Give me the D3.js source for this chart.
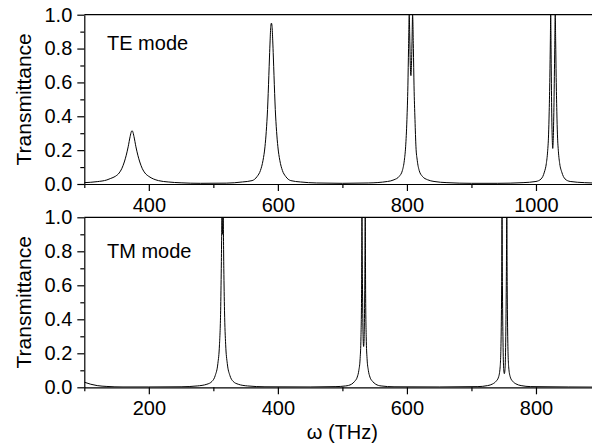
<!DOCTYPE html>
<html>
<head>
<meta charset="utf-8">
<script src="https://cdn.jsdelivr.net/npm/d3@7"></script>
<style>
  html, body { margin: 0; padding: 0; background: #fff; }
  svg { display: block; font-family: "Liberation Sans", Arial, sans-serif; }
  .axis path, .axis line { stroke: #000; stroke-width: 1.2; }
  .axis text { font-size: 20px; fill: #000; }
</style>
</head>
<body>
<svg id="chart" width="592" height="446"></svg>
<script>
// ---------- data ----------
const teOmega = [300,320,335,341,348,354,358,362,365,368,371,373,374,375,377,380,383,386,390,394,400,407,415,430,450,480,520,
  545,560,568,573,577,580,582,584,586,587,588,589,590,591,592,593,594,596,598,600,603,607,612,620,635,660,700,
  740,770,780,788,793,796,798,800,801.5,802.5,803.6,804.5,805.3,806.2,807,807.9,808.8,810,811,812.5,814,816,819,824,832,842,862,900,
  940,980,1000,1008,1013,1016,1018,1019.5,1020.5,1021.5,1022.3,1022.8,1023.5,1024.3,1025.2,1026,1026.8,1027.8,1028.9,1029.9,1030.5,1031.3,1032.3,1033.3,1034.8,1036.8,1040,1045,1053,1075,1100];
const teT = [0.008,0.014,0.024,0.033,0.045,0.065,0.09,0.13,0.17,0.22,0.28,0.31,0.315,0.31,0.28,0.22,0.17,0.13,0.09,0.065,0.045,0.03,0.02,0.012,0.007,0.004,0.005,
  0.012,0.02,0.045,0.08,0.14,0.22,0.31,0.44,0.64,0.75,0.85,0.93,0.95,0.93,0.85,0.75,0.64,0.44,0.31,0.22,0.14,0.08,0.045,0.02,0.012,0.006,0.004,
  0.006,0.015,0.025,0.045,0.08,0.14,0.22,0.38,0.58,0.8,1.0,0.84,0.7,0.64,0.7,0.84,1.0,0.8,0.58,0.38,0.22,0.14,0.08,0.045,0.025,0.015,0.008,0.004,
  0.004,0.008,0.015,0.03,0.07,0.12,0.19,0.29,0.43,0.63,0.85,1.0,0.75,0.45,0.27,0.21,0.27,0.45,0.75,1.0,0.85,0.63,0.43,0.29,0.19,0.12,0.07,0.03,0.015,0.008,0.005];

const tmOmega = [100,110,120,135,160,200,250,275,290,298,303,307,309.5,311.3,312.3,313.4,314.3,315.2,316.2,317.3,319.1,321.6,325.6,330.6,338.6,353,380,
  450,490,505,514,519,523,525.5,527.5,528.8,529.7,530.3,531,531.7,532.3,532.9,533.5,534.1,534.8,535.4,536,536.9,538.2,540.2,542.7,546.7,551.7,560,580,
  650,710,725,733,738,742,744.5,746,746.8,747.4,748,748.8,749.8,751,752.2,753.2,754,754.8,755.4,756.2,757.7,760.2,764,769,777,792,850,900];
const tmT = [0.03,0.018,0.01,0.005,0.002,0.002,0.003,0.008,0.018,0.035,0.07,0.14,0.25,0.45,0.7,1.0,0.9,1.0,0.7,0.45,0.25,0.14,0.07,0.035,0.018,0.008,0.003,
  0.002,0.004,0.008,0.018,0.035,0.06,0.1,0.17,0.3,0.55,1.0,0.65,0.38,0.27,0.24,0.27,0.38,0.65,1.0,0.55,0.3,0.17,0.1,0.06,0.035,0.018,0.008,0.003,
  0.002,0.004,0.01,0.02,0.035,0.06,0.12,0.3,0.6,1.0,0.6,0.3,0.12,0.08,0.12,0.3,0.6,1.0,0.6,0.3,0.12,0.06,0.035,0.02,0.01,0.004,0.002,0.001];

const yTicks = [0, 0.2, 0.4, 0.6, 0.8, 1.0];
const yMinor = [0.1, 0.3, 0.5, 0.7, 0.9];
const teXTicks = [400, 600, 800, 1000];
const teXMinor = [300, 500, 700, 900, 1100];
const tmXTicks = [200, 400, 600, 800];
const tmXMinor = [100, 300, 500, 700, 900];

const panels = [
  { omega: teOmega, t: teT, xDomain: [300, 1100], top: 14.7, bottom: 184, ticks: teXTicks, minor: teXMinor, label: "TE mode", labelY: 50 },
  { omega: tmOmega, t: tmT, xDomain: [100, 900], top: 217.3, bottom: 387.3, ticks: tmXTicks, minor: tmXMinor, label: "TM mode", labelY: 258.3 }
];

// ---------- drawing ----------
const svg = d3.select("#chart");
const left = 84.3, right = 600.5;

panels.forEach((p, i) => {
  const x = d3.scaleLinear().domain(p.xDomain).range([left, right]);
  const y = d3.scaleLinear().domain([0, 1]).range([p.bottom, p.top]);
  const g = svg.append("g");

  g.append("clipPath").attr("id", "clip" + i)
    .append("rect").attr("x", left).attr("y", p.top).attr("width", right - left).attr("height", p.bottom - p.top);

  const line = d3.line().x((d, k) => x(p.omega[k])).y(d => y(d)).curve(d3.curveMonotoneX);
  g.append("path").datum(p.t)
    .attr("clip-path", `url(#clip${i})`)
    .attr("d", line).attr("fill", "none").attr("stroke", "#000").attr("stroke-width", 1);

  // top frame line
  g.append("line").attr("x1", left).attr("x2", right).attr("y1", p.top).attr("y2", p.top)
    .attr("stroke", "#000").attr("stroke-width", 1.2);

  // y axis
  g.append("g").attr("class", "axis").attr("transform", `translate(${left},0)`)
    .call(d3.axisLeft(y).tickValues(yTicks).tickFormat(d3.format(".1f")).tickSizeInner(7).tickSizeOuter(0).tickPadding(5));
  g.append("g").attr("class", "axis").attr("transform", `translate(${left},0)`)
    .call(d3.axisLeft(y).tickValues(yMinor).tickFormat("").tickSizeInner(4).tickSizeOuter(0))
    .select(".domain").remove();

  // x axis
  g.append("g").attr("class", "axis").attr("transform", `translate(0,${p.bottom})`)
    .call(d3.axisBottom(x).tickValues(p.ticks).tickFormat(d3.format("d")).tickSizeInner(7).tickSizeOuter(0).tickPadding(7));
  g.append("g").attr("class", "axis").attr("transform", `translate(0,${p.bottom})`)
    .call(d3.axisBottom(x).tickValues(p.minor).tickFormat("").tickSizeInner(4).tickSizeOuter(0))
    .select(".domain").remove();

  // y label
  g.append("text")
    .attr("transform", `translate(30.5,${(p.top + p.bottom) / 2}) rotate(-90)`)
    .attr("text-anchor", "middle").attr("font-size", "21px").text("Transmittance");

  // mode label
  g.append("text").attr("x", 107).attr("y", p.labelY).attr("font-size", "20px").text(p.label);
});

svg.append("text").attr("x", (left + right) / 2).attr("y", 439)
  .attr("text-anchor", "middle").attr("font-size", "20px").text("ω (THz)");
</script>
</body>
</html>
